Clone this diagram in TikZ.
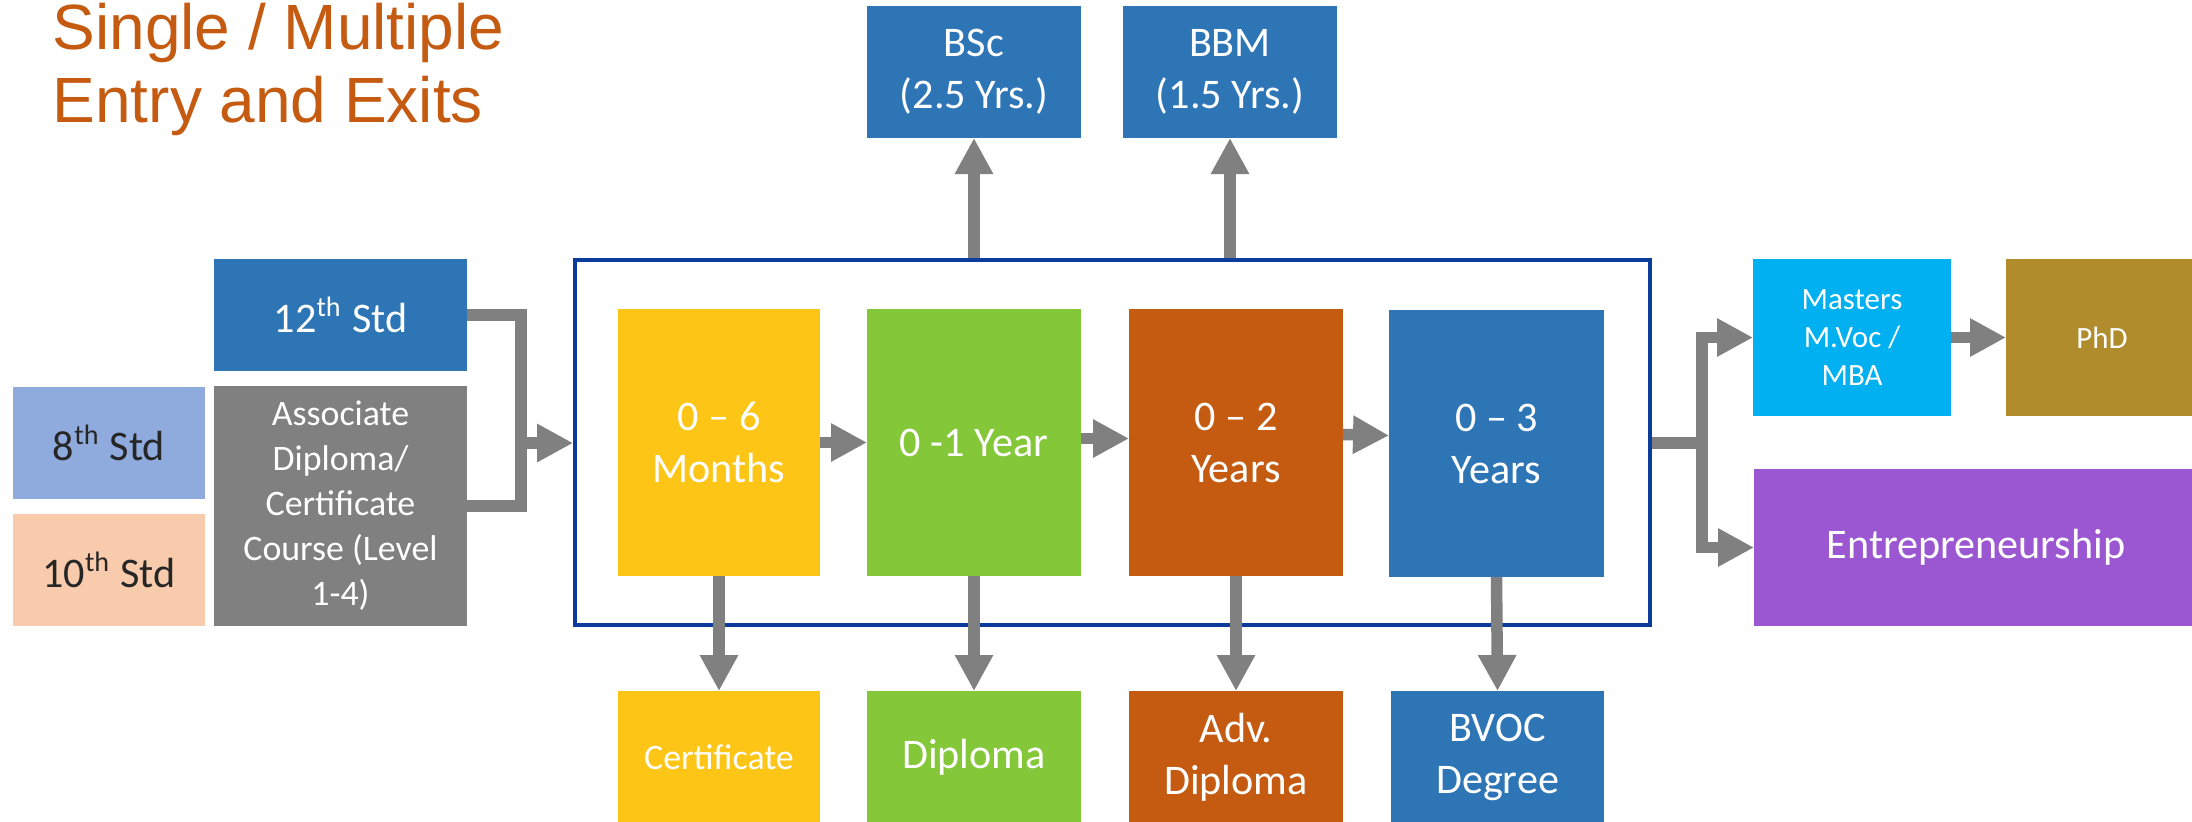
\documentclass[tikz,border=0pt]{standalone}
\usepackage{fontspec}
\setmainfont{Carlito}
\newfontfamily\titlefont{Liberation Sans}
\usepackage{xcolor}
\usepackage{tikz}
\usetikzlibrary{arrows.meta,positioning}
\definecolor{stdblue}{HTML}{2E75B6}
\definecolor{paleblue}{HTML}{8FAADC}
\definecolor{peach}{HTML}{F8CBAD}
\definecolor{slate}{HTML}{808080}
\definecolor{sun}{HTML}{FDC516}
\definecolor{leaf}{HTML}{84C739}
\definecolor{rust}{HTML}{C55A11}
\definecolor{sky}{HTML}{00B0F0}
\definecolor{ochre}{HTML}{B18C2D}
\definecolor{grape}{HTML}{9B57D2}
\definecolor{framenavy}{HTML}{0B3B9B}
\definecolor{ink}{HTML}{262626}
\tikzset{
    stagebox/.style={rectangle,fill=#1,text=white,inner sep=0pt,outer sep=0pt,
      align=center,font=\fontsize{12}{14.8}\selectfont},
    smalltext/.style={font=\fontsize{10.2}{12.8}\selectfont},
    tinytext/.style={font=\fontsize{8.8}{10.8}\selectfont},
    titletext/.style={font=\titlefont\fontsize{18.2}{21.6}\selectfont,text=rust,
      inner sep=0pt,anchor=base west},
    pipe/.style={draw=slate,line width=1.15mm,line join=miter,line cap=butt},
    flow/.style={pipe,-{Triangle[length=3.6mm,width=3.6mm]}}
}
\begin{document}
\begin{tikzpicture}[x=0.1mm,y=-0.1mm]
  \path[use as bounding box,clip] (0,0) rectangle (2192,821);
  % title
  \node[titletext] (title) at (52,49) {Single / Multiple};
  \node[titletext] (title2) at (52,122) {Entry and Exits};
  % entry points
  \node[stagebox=stdblue,minimum width=25.3mm,minimum height=11.2mm] (std12) at (340.5,315) {12\textsuperscript{th} Std};
  \node[stagebox=slate,smalltext,minimum width=25.3mm,minimum height=24mm] (assoc) at (340.5,506)
    {Associate\\Diploma/\\Certificate\\Course (Level\\1-4)};
  \node[stagebox=paleblue,text=ink,minimum width=19.2mm,minimum height=11.2mm] (std8) at (109,443) {8\textsuperscript{th} Std};
  \node[stagebox=peach,text=ink,minimum width=19.2mm,minimum height=11.2mm] (std10) at (109,570) {10\textsuperscript{th} Std};
  % programme frame and stages
  \node[draw=framenavy,line width=0.38mm,minimum width=107.5mm,minimum height=36.5mm] (stages) at (1112.5,442.5) {};
  \node[stagebox=sun,minimum width=20.2mm,minimum height=26.7mm] (m6) at (719,442.5) {0 -- 6\\Months};
  \node[stagebox=leaf,minimum width=21.4mm,minimum height=26.7mm] (y1) at (974,442.5) {0 -1 Year};
  \node[stagebox=rust,minimum width=21.4mm,minimum height=26.7mm] (y2) at (1236,442.5) {0 -- 2\\Years};
  \node[stagebox=stdblue,minimum width=21.5mm,minimum height=26.7mm] (y3) at (1496.5,443.5) {0 -- 3\\Years};
  % exits below
  \node[stagebox=sun,smalltext,minimum width=20.2mm,minimum height=13.2mm] (cert) at (719,757) {Certificate};
  \node[stagebox=leaf,minimum width=21.4mm,minimum height=13.2mm] (dipl) at (974,757) {Diploma};
  \node[stagebox=rust,minimum width=21.4mm,minimum height=13.2mm] (adv) at (1236,757) {Adv.\\Diploma};
  \node[stagebox=stdblue,minimum width=21.3mm,minimum height=13.2mm] (bvoc) at (1497.5,757) {BVOC\\Degree};
  % degrees above
  \node[stagebox=stdblue,minimum width=21.4mm,minimum height=13.2mm] (bsc) at (974,72) {BSc\\(2.5 Yrs.)};
  \node[stagebox=stdblue,minimum width=21.4mm,minimum height=13.2mm] (bbm) at (1230,72) {BBM\\(1.5 Yrs.)};
  % further paths
  \node[stagebox=sky,tinytext,minimum width=19.8mm,minimum height=15.7mm] (masters) at (1852,337.5) {Masters\\M.Voc /\\MBA};
  \node[stagebox=ochre,tinytext,minimum width=19.2mm,minimum height=15.7mm] (phd) at (2102,337.5) {PhD};
  \node[stagebox=grape,minimum width=44.4mm,minimum height=15.7mm] (entre) at (1976,547.5) {Entrepreneurship};
  % connectors
  \coordinate (jl) at (521,443);
  \coordinate (jr) at (1702,443);
  \draw[pipe] (std12.east) -| (jl) |- (assoc.east);
  \draw[flow] (jl) -- (jl -| stages.west);
  \foreach \a/\b/\s in {m6/y1/0,y1/y2/4,y2/y3/8}
    \draw[flow] ([yshift=\s*0.1mm]\a.east) -- ([yshift=\s*0.1mm]\b.west);
  \draw[flow] (bsc |- stages.north) -- (bsc.south);
  \draw[flow] (bbm |- stages.north) -- (bbm.south);
  \foreach \a/\b in {m6/cert,y1/dipl,y2/adv,y3/bvoc}
    \draw[flow] (\a.south) -- (\b.north);
  \draw[pipe] (jr -| stages.east) -- (jr);
  \draw[flow] (jr) |- (masters.west);
  \draw[flow] (jr) |- (entre.west);
  \draw[flow] (masters) -- (phd);
\end{tikzpicture}
\end{document}
